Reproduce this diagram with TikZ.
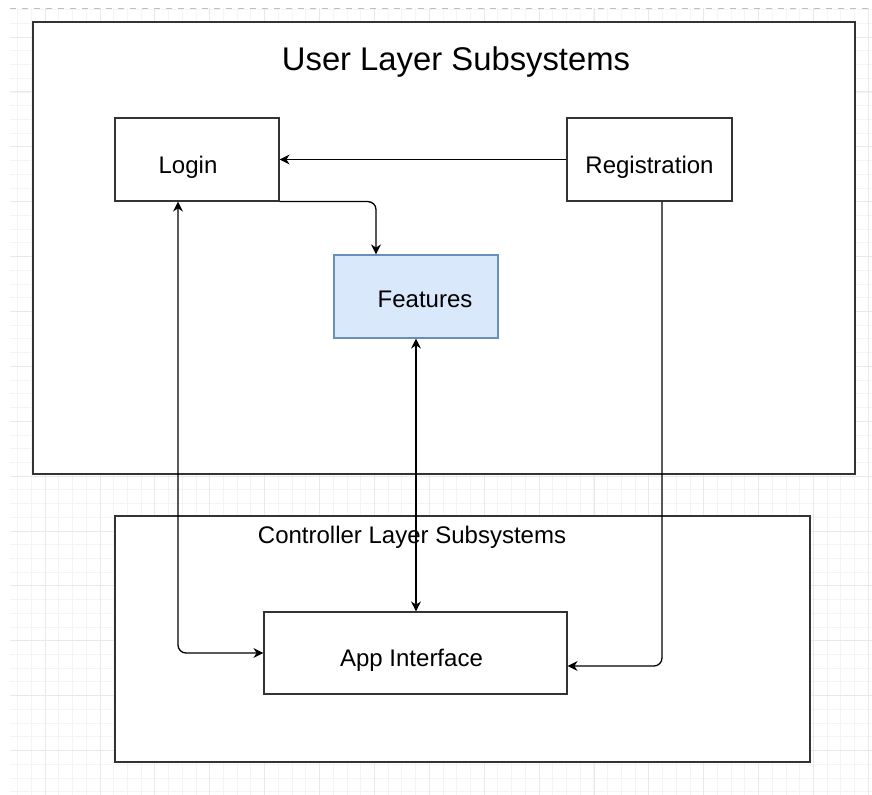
\documentclass[tikz,border=0pt]{standalone}
\usepackage{fontspec}
\setmainfont{Liberation Sans}
\usetikzlibrary{arrows.meta}

\definecolor{featfill}{HTML}{DAE8FC}
\definecolor{featline}{HTML}{6C8EBF}
\definecolor{gridlight}{HTML}{F4F4F4}
\definecolor{gridmajor}{HTML}{E9E9E9}

\tikzset{
  layerbox/.style={draw=black!80, fill=white, line width=0.7pt},
  subbox/.style={draw=black!80, fill=white, line width=0.6pt, font=\fontsize{12}{14}\selectfont,
    text height=14pt, text depth=0pt},
  featbox/.style={subbox, draw=featline, fill=featfill, text height=11pt},
  link/.style={line width=0.65pt, rounded corners=4pt, -{Stealth[length=5pt,width=5pt]}},
  twolink/.style={link, {Stealth[length=5pt,width=5pt]}-{Stealth[length=5pt,width=5pt]}}
}

\begin{document}
\begin{tikzpicture}[x=0.5pt, y=-0.5pt]
  \useasboundingbox (0,0) rectangle (872,795);
  % background grid
  \foreach \k in {1,...,63}
    \draw[gridlight, line width=0.4pt] ({3.9+13.72*\k},8) -- ({3.9+13.72*\k},795);
  \foreach \k in {0,...,57}
    \draw[gridlight, line width=0.4pt] (10,{9.6+13.72*\k}) -- (872,{9.6+13.72*\k});
  \foreach \j in {0,...,15}
    \draw[gridmajor, line width=0.4pt] ({45.1+54.88*\j},8) -- ({45.1+54.88*\j},795);
  \foreach \j in {0,...,13}
    \draw[gridmajor, line width=0.4pt] (10,{37+54.88*\j}) -- (872,{37+54.88*\j});
  \draw[gray!50, dashed, line width=0.4pt] (10,8) -- (872,8);

  % layers
  \node[layerbox, minimum width=411pt, minimum height=226pt] (userlayer) at (444,248) {};
  \node[font=\fontsize{16.4}{19}\selectfont] (usertitle) at (456,62) {User Layer Subsystems};
  \node[layerbox, minimum width=347.5pt, minimum height=123pt] (ctrllayer) at (462.5,639) {};
  \node[font=\fontsize{12}{14}\selectfont] (ctrltitle) at (412,537) {Controller Layer Subsystems};

  % subsystems
  \node[subbox, minimum width=82pt, minimum height=41.5pt] (login) at (197,159.5) {Login\kern9pt};
  \node[subbox, minimum width=82.5pt, minimum height=41.5pt] (registration) at (649.5,159.5) {Registration};
  \node[featbox, minimum width=82pt, minimum height=41.5pt] (features) at (416,296.5) {\kern9pt Features};
  \node[subbox, minimum width=151.5pt, minimum height=41pt] (appif) at (415.5,653) {App Interface\kern4pt};

  % connectors
  \draw[link] (registration) -- (login);
  \draw[link] (login.south east) -| ([xshift=-20pt]features.north);
  \draw[twolink] ([xshift=-9.5pt]login.south) |- (appif.west);
  \draw[twolink] (features.south) -- (features.south |- appif.north);
  \draw[link] ([xshift=6.25pt]registration.south) |- ([yshift=-6.5pt]appif.east);
\end{tikzpicture}
\end{document}
